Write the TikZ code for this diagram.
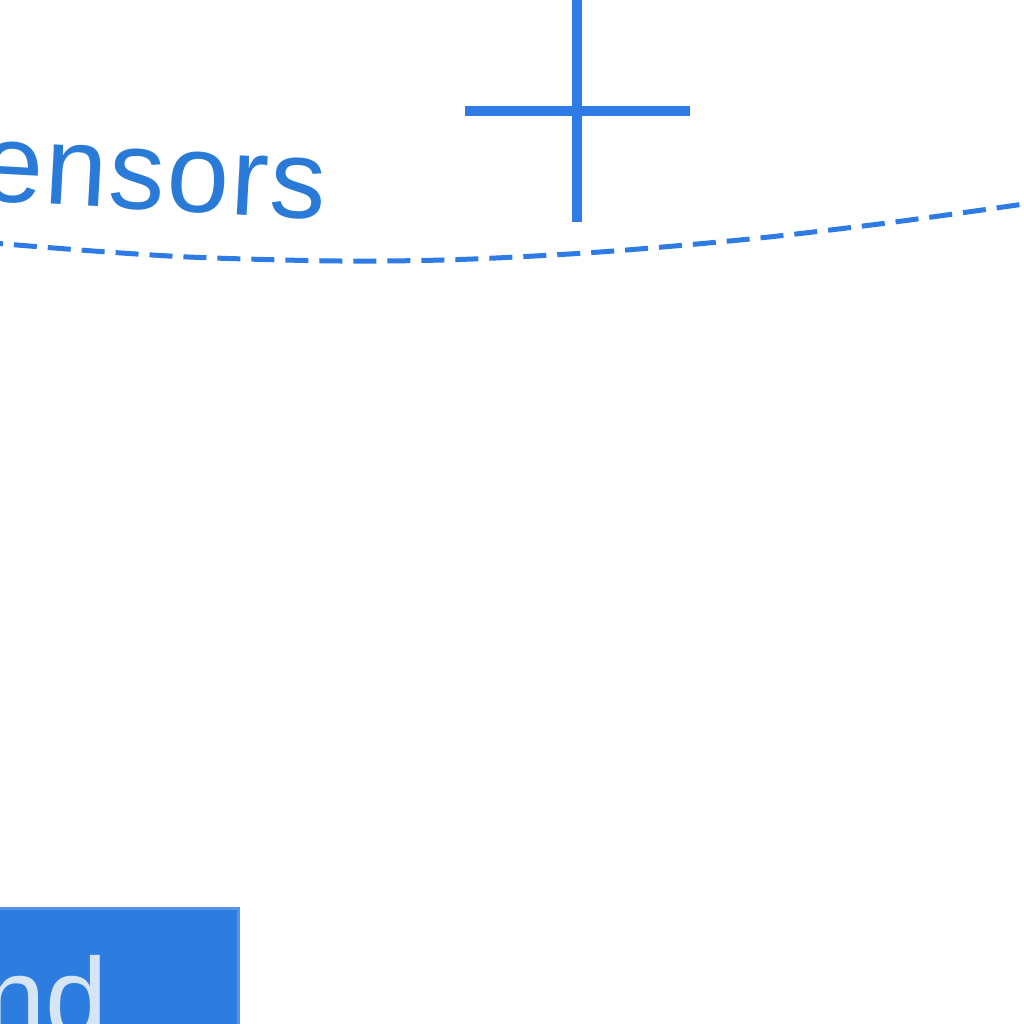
\documentclass[tikz,border=0pt]{standalone}
\usepackage{fontspec}
\setmainfont{Liberation Sans}
\definecolor{accent}{HTML}{2E7BE6}
\definecolor{labelblue}{HTML}{2A7AD8}
\definecolor{boxblue}{HTML}{2D7DE0}
\definecolor{boxedge}{HTML}{5593E6}
\definecolor{boxtext}{HTML}{D6E5F3}
\tikzset{
  crossline/.style={draw=accent, line width=10pt},
  dashcurve/.style={draw=accent, line width=5pt, dash pattern=on 23pt off 11pt},
  biglabel/.style={inner sep=0pt, font=\fontsize{112}{130}\selectfont},
}
\begin{document}
\begin{tikzpicture}[x=1pt,y=-1pt]
\useasboundingbox (0,0) rectangle (1024,1024);
% label
\node[biglabel, text=labelblue, anchor=base west, rotate=-3.2] (sensors) at (-21,200) {\addfontfeature{LetterSpace=1.8}ensors};
% cross
\coordinate (ctop) at (577,-5);
\coordinate (cbot) at (577,222);
\coordinate (cleft) at (465,111);
\coordinate (cright) at (690,111);
\draw[crossline] (ctop) -- (cbot);
\draw[crossline] (cleft) -- (cright);
% dashed curve
\draw[dashcurve] plot[smooth] coordinates {(-20,242) (100,251.5) (200,257.5) (340,261) (460,259.5) (600,252) (750,239) (887,223) (1024,204) (1050,199)};
% box
\node[draw=boxedge, fill=boxblue, line width=3pt, minimum width=270pt, minimum height=140pt, inner sep=0pt, anchor=north east] (box) at (240,907) {};
\node[biglabel, text=boxtext, anchor=base west] (boxlabel) at (-17,1036) {nd};
\end{tikzpicture}
\end{document}
